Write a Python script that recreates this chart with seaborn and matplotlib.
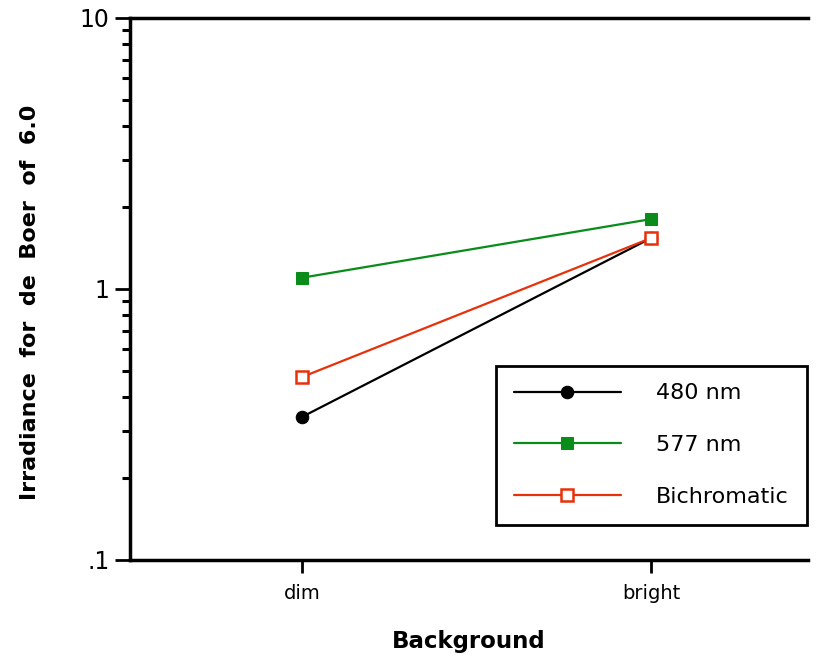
import seaborn as sns
import matplotlib.pyplot as plt
from matplotlib.ticker import FixedLocator, FixedFormatter, LogLocator, NullFormatter

# data
backgrounds = ["dim", "bright"]
nm480 = [0.337, 1.54]
nm577 = [1.10, 1.81]
bichromatic = [0.473, 1.54]

sns.set_style("white")
plt.rcParams['font.family'] = ['DejaVu Sans']
plt.rcParams['text.color'] = 'black'
plt.rcParams['axes.labelcolor'] = 'black'
plt.rcParams['xtick.color'] = 'black'
plt.rcParams['ytick.color'] = 'black'

fig = plt.figure(figsize=(8.17, 6.65), dpi=100)
ax = fig.add_axes([0.159, 0.158, 0.830, 0.815])

x = [0, 1]
sns.lineplot(x=x, y=nm480, ax=ax, color="black", marker="o", markersize=9,
             markeredgecolor="black", linewidth=1.6, label="480 nm")
sns.lineplot(x=x, y=nm577, ax=ax, color="#0a8c1a", marker="s", markersize=9,
             markeredgecolor="#0a8c1a", linewidth=1.6, label="577 nm")
sns.lineplot(x=x, y=bichromatic, ax=ax, color="#e8300a", marker="s", markersize=8,
             markerfacecolor="white", markeredgecolor="#e8300a", markeredgewidth=1.8,
             linewidth=1.6, label="Bichromatic")

ax.set_yscale("log")
ax.set_ylim(0.1, 10)
ax.set_xlim(-0.493, 1.45)
ax.yaxis.set_major_locator(FixedLocator([0.1, 1, 10]))
ax.yaxis.set_major_formatter(FixedFormatter([".1", "1", "10"]))
ax.yaxis.set_minor_locator(LogLocator(base=10, subs=range(2, 10)))
ax.yaxis.set_minor_formatter(NullFormatter())
ax.set_xticks(x)
ax.set_xticklabels(backgrounds, fontsize=14)
ax.tick_params(axis="y", which="major", direction="out", length=11, width=2, labelsize=17, left=True)
ax.tick_params(axis="y", which="minor", direction="out", length=6, width=2.2, left=True)
ax.tick_params(axis="x", which="major", direction="out", length=9, width=2, bottom=True, pad=8)

for side in ["left", "bottom", "top"]:
    ax.spines[side].set_linewidth(2.5)
    ax.spines[side].set_color("black")
ax.spines["right"].set_visible(False)

ax.set_xlabel("Background", fontsize=16.5, fontweight="bold", labelpad=20)
ax.set_ylabel("Irradiance  for  de  Boer  of  6.0", fontsize=16, fontweight="bold")
ax.yaxis.set_label_coords(-0.133, 0.475)

leg = ax.legend(loc="lower right", bbox_to_anchor=(0.998, 0.065), fontsize=16, frameon=True,
                fancybox=False, edgecolor="black", handlelength=4.8, labelspacing=1.43,
                borderpad=0.8, handletextpad=1.6, borderaxespad=0)
leg.get_frame().set_linewidth(2)
leg.get_frame().set_alpha(1)

fig.savefig("out.png", dpi=100)
